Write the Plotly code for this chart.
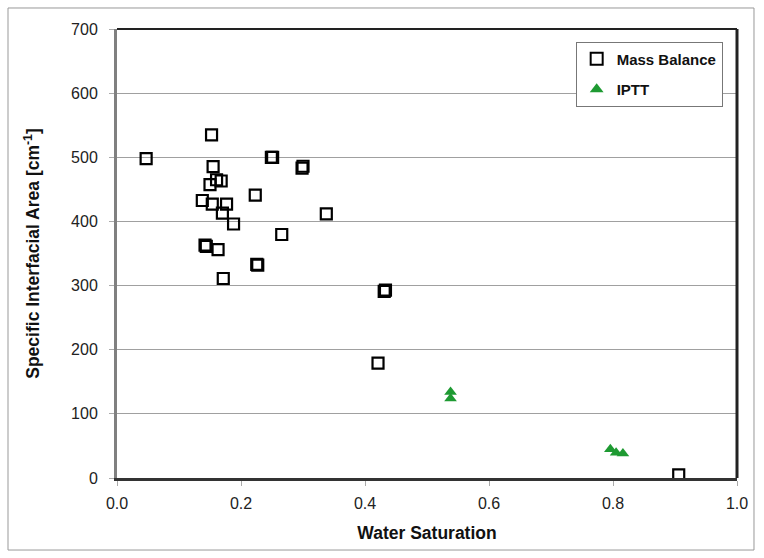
import plotly.graph_objects as go

mb_x = [0.047, 0.1525, 0.249, 0.251, 0.2985, 0.300, 0.155, 0.1606, 0.168, 0.150, 0.223, 0.1376,
        0.1537, 0.1767, 0.170, 0.3376, 0.188, 0.2657, 0.144, 0.142, 0.163, 0.2254, 0.227, 0.1714,
        0.431, 0.433, 0.421, 0.906]
mb_y = [498, 535, 500, 500, 483, 486, 485.5, 465, 463, 457.5, 441, 432.6,
        427, 427, 413, 411.7, 396, 379.6, 361, 363, 356, 333, 332, 311,
        291, 293, 179, 5]

ip_x = [0.538, 0.538, 0.7957, 0.805, 0.816]
ip_y = [134, 124, 44.7, 39.4, 38.3]

y_ticks = [0, 100, 200, 300, 400, 500, 600, 700]
x_ticks = [0.0, 0.2, 0.4, 0.6, 0.8, 1.0]

FONT = "Liberation Sans, Arial, sans-serif"

fig = go.Figure()
fig.add_trace(go.Scatter(
    x=mb_x, y=mb_y, mode="markers", name="Mass Balance", legendgroup="a",
    marker=dict(symbol="square-open", size=11, color="black", line=dict(width=2.2, color="black")),
))
fig.add_trace(go.Scatter(
    x=ip_x, y=ip_y, mode="markers", name="IPTT", legendgroup="b",
    marker=dict(symbol="triangle-up", size=11, color="#1e9a32"),
))

fig.update_layout(
    width=764, height=558,
    margin=dict(l=117, r=27, t=29, b=80),
    paper_bgcolor="white", plot_bgcolor="white",
    font=dict(family=FONT, size=16, color="#222"),
    legend=dict(
        x=0.7398, y=0.972, xanchor="left", yanchor="top",
        bordercolor="#777", borderwidth=1, bgcolor="white",
        font=dict(family=FONT, size=15, color="#111", weight="bold"),
        itemsizing="constant", tracegroupgap=8,
        entrywidth=118, entrywidthmode="pixels",
    ),
    xaxis=dict(
        range=[0, 1.0], tickvals=x_ticks, ticktext=[f"{v:.1f}" for v in x_ticks],
        showgrid=False, zeroline=False,
        showline=True, linecolor="#333", linewidth=3,
        ticks="outside", ticklen=5, tickcolor="#aaa", tickwidth=1,
        ticklabelstandoff=4,
        title=dict(text="<b>Water Saturation</b>", font=dict(size=17.5, color="#111"), standoff=16),
        tickfont=dict(size=16, color="#222"),
    ),
    yaxis=dict(
        range=[0, 700], tickvals=y_ticks,
        showgrid=True, gridcolor="#a0a0a0", gridwidth=1.2,
        zeroline=False,
        showline=True, linecolor="#808080", linewidth=3,
        ticks="outside", ticklen=5, tickcolor="#aaa", tickwidth=1,
        ticklabelstandoff=8,
        title=dict(text="<b>Specific Interfacial Area [cm<sup>-1</sup>]</b>", font=dict(size=17.5, color="#111"), standoff=27),
        tickfont=dict(size=16, color="#222"),
    ),
    shapes=[
        dict(type="line", xref="paper", yref="paper", x0=0, x1=1, y0=1, y1=1,
             line=dict(color="#222", width=2)),
        dict(type="line", xref="paper", yref="paper", x0=1, x1=1, y0=0, y1=1,
             line=dict(color="#222", width=3)),
        dict(type="rect", xref="paper", yref="paper", x0=-0.1758, x1=1.0274, y0=-0.1604, y1=1.0468,
             line=dict(color="#999", width=1), layer="below"),
    ],
)

fig.write_html("out.html", config={"displayModeBar": False})

# remove default page margin so the figure sits at the window origin
with open("out.html", "r", encoding="utf-8") as f:
    html = f.read()
html = html.replace("<head>", "<head><style>html,body{margin:0;padding:0;overflow:hidden;}</style>", 1)
with open("out.html", "w", encoding="utf-8") as f:
    f.write(html)
